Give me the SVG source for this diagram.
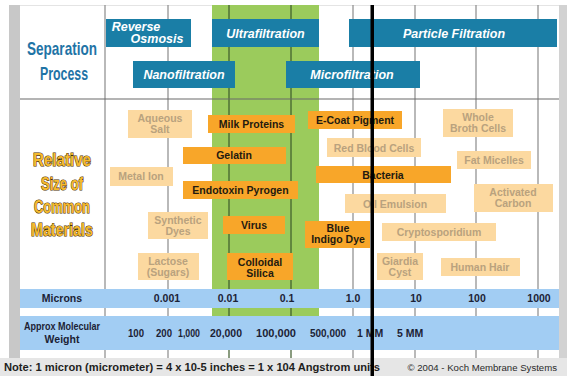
<svg xmlns="http://www.w3.org/2000/svg" width="567" height="376" viewBox="0 0 567 376">
<style>
.sep{fill:#1a7ea6}
.st{font-family:"Liberation Sans",Arial,sans-serif;font-weight:bold;font-style:italic;font-size:12.5px;fill:#fff;text-anchor:middle}
.or{fill:#f8a629}
.lt{fill:#fcd9a0}
.ot{font-family:"Liberation Sans",Arial,sans-serif;font-weight:bold;font-size:10.5px;fill:#231a10;text-anchor:middle}
.ltx{font-family:"Liberation Sans",Arial,sans-serif;font-weight:bold;font-size:10.5px;fill:#b9a27e;text-anchor:middle}
.grid{stroke:#8a8a8a;stroke-width:1.2}
.gridg{stroke:#3c5a2a;stroke-width:1.2}
.band{fill:#a2cdf3}
.val{font-family:"Liberation Sans",Arial,sans-serif;font-weight:bold;font-size:10.5px;fill:#1c2235;text-anchor:middle}
.mw{font-family:"Liberation Sans",Arial,sans-serif;font-weight:bold;font-size:10.5px;fill:#1c2235;text-anchor:middle}
.hd{font-family:"Liberation Sans Narrow","Liberation Sans",Arial,sans-serif;font-weight:bold;font-size:19px;fill:#1f74a6;text-anchor:middle}
.rel{font-family:"Liberation Sans Narrow","Liberation Sans",Arial,sans-serif;font-weight:bold;font-size:19px;fill:#f6ba2e;stroke:#4a3000;stroke-width:1.2;paint-order:stroke;text-anchor:middle}
</style>
<rect x="0" y="0" width="567" height="376" fill="#ffffff"/>
<rect x="9" y="5" width="11" height="353" fill="#c8c8c8"/>
<rect x="559" y="5" width="8" height="353" fill="#d2d2d2"/>
<rect x="0" y="358" width="567" height="18" fill="#e6e6e6"/>
<line x1="20" y1="5.5" x2="559" y2="5.5" stroke="#e4e4e4" stroke-width="1"/>
<rect x="212" y="5" width="107" height="311" fill="#9bcb5c"/>
<g id="grid">
<line class="grid" x1="105" y1="5" x2="105" y2="358"/>
<line class="grid" x1="168" y1="5" x2="168" y2="358"/>
<line class="gridg" x1="229" y1="5" x2="229" y2="358"/>
<line class="gridg" x1="291" y1="5" x2="291" y2="358"/>
<line class="grid" x1="353" y1="5" x2="353" y2="358"/>
<line class="grid" x1="415" y1="5" x2="415" y2="358"/>
<line class="grid" x1="476" y1="5" x2="476" y2="358"/>
<line class="grid" x1="538" y1="5" x2="538" y2="358"/>
<line x1="20" y1="99" x2="559" y2="99" stroke="#6a6a6a" stroke-width="1.2"/>
</g>
<g id="connectors"></g>
<g id="separation-process-label">
<text class="hd" x="62" y="55" textLength="70" lengthAdjust="spacingAndGlyphs">Separation</text>
<text class="hd" x="64" y="80" textLength="48" lengthAdjust="spacingAndGlyphs">Process</text>
</g>
<g id="reverse-osmosis"><rect class="sep" x="106" y="19" width="85" height="28"/><text class="st" x="136" y="31">Reverse</text><text class="st" x="157" y="43">Osmosis</text></g>
<g id="ultrafiltration"><rect class="sep" x="212" y="19" width="107" height="28"/><text class="st" x="265.5" y="38">Ultrafiltration</text></g>
<g id="particle-filtration"><rect class="sep" x="349" y="19" width="208" height="28"/><text class="st" x="454" y="38">Particle Filtration</text></g>
<g id="nanofiltration"><rect class="sep" x="133" y="61" width="102" height="27"/><text class="st" x="184" y="79">Nanofiltration</text></g>
<g id="microfiltration"><rect class="sep" x="286" y="61" width="134" height="27"/><text class="st" x="352" y="79">Microfiltration</text></g>
<g id="relative-size-label">
<text class="rel" x="62" y="166" textLength="58" lengthAdjust="spacingAndGlyphs">Relative</text>
<text class="rel" x="62" y="190" textLength="42" lengthAdjust="spacingAndGlyphs">Size of</text>
<text class="rel" x="62" y="213" textLength="56" lengthAdjust="spacingAndGlyphs">Common</text>
<text class="rel" x="62" y="236" textLength="62" lengthAdjust="spacingAndGlyphs">Materials</text>
</g>
<g id="aqueous-salt"><rect class="lt" x="128" y="110" width="64" height="28"/><text class="ltx" x="160" y="122">Aqueous</text><text class="ltx" x="160" y="133">Salt</text></g>
<g id="metal-ion"><rect class="lt" x="110" y="167" width="63" height="19"/><text class="ltx" x="141" y="180">Metal Ion</text></g>
<g id="synthetic-dyes"><rect class="lt" x="148" y="212" width="60" height="27"/><text class="ltx" x="178" y="224">Synthetic</text><text class="ltx" x="178" y="235">Dyes</text></g>
<g id="lactose"><rect class="lt" x="138" y="253" width="61" height="27"/><text class="ltx" x="168" y="265">Lactose</text><text class="ltx" x="168" y="276">(Sugars)</text></g>
<g id="milk-proteins"><rect class="or" x="208" y="115" width="87" height="18"/><text class="ot" x="251.5" y="128">Milk Proteins</text></g>
<g id="gelatin"><rect class="or" x="183" y="147" width="103" height="17"/><text class="ot" x="234" y="159">Gelatin</text></g>
<g id="endotoxin-pyrogen"><rect class="or" x="183" y="181" width="115" height="18"/><text class="ot" x="240.5" y="194">Endotoxin Pyrogen</text></g>
<g id="virus"><rect class="or" x="223" y="216" width="62" height="18"/><text class="ot" x="254" y="229">Virus</text></g>
<g id="colloidal-silica"><rect class="or" x="227" y="253" width="66" height="27"/><text class="ot" x="260" y="266">Colloidal</text><text class="ot" x="260" y="277">Silica</text></g>
<g id="e-coat-pigment"><rect class="or" x="308" y="111" width="94" height="18"/><text class="ot" x="355" y="124">E-Coat Pigment</text></g>
<g id="bacteria"><rect class="or" x="316" y="166" width="135" height="17"/><text class="ot" x="383" y="179">Bacteria</text></g>
<g id="blue-indigo-dye"><rect class="or" x="305" y="221" width="65" height="27"/><text class="ot" x="338" y="232">Blue</text><text class="ot" x="338" y="243">Indigo Dye</text></g>
<g id="whole-broth-cells"><rect class="lt" x="443" y="109" width="70" height="28"/><text class="ltx" x="478" y="121">Whole</text><text class="ltx" x="478" y="132">Broth Cells</text></g>
<g id="red-blood-cells"><rect class="lt" x="327" y="138" width="94" height="19"/><text class="ltx" x="374" y="152">Red Blood Cells</text></g>
<g id="fat-micelles"><rect class="lt" x="457" y="151" width="74" height="18"/><text class="ltx" x="494" y="164">Fat Micelles</text></g>
<g id="activated-carbon"><rect class="lt" x="474" y="184" width="79" height="28"/><text class="ltx" x="513" y="196">Activated</text><text class="ltx" x="513" y="207">Carbon</text></g>
<g id="oil-emulsion"><rect class="lt" x="345" y="194" width="101" height="19"/><text class="ltx" x="395" y="208">Oil Emulsion</text></g>
<g id="cryptosporidium"><rect class="lt" x="382" y="223" width="114" height="18"/><text class="ltx" x="439" y="236">Cryptosporidium</text></g>
<g id="giardia-cyst"><rect class="lt" x="377" y="253" width="46" height="27"/><text class="ltx" x="400" y="265">Giardia</text><text class="ltx" x="400" y="276">Cyst</text></g>
<g id="human-hair"><rect class="lt" x="441" y="258" width="79" height="18"/><text class="ltx" x="480" y="271">Human Hair</text></g>
<g id="microns-row">
<rect class="band" x="20" y="289" width="539" height="19"/>
<text class="val" x="62" y="302">Microns</text>
<text class="val" x="167" y="302">0.001</text>
<text class="val" x="228" y="302">0.01</text>
<text class="val" x="287" y="302">0.1</text>
<text class="val" x="353" y="302">1.0</text>
<text class="val" x="416" y="302">10</text>
<text class="val" x="477" y="302">100</text>
<text class="val" x="539" y="302">1000</text>
</g>
<g id="molecular-weight-row">
<rect class="band" x="20" y="316" width="539" height="34"/>
<text class="mw" x="62" y="330" font-size="10" textLength="76" lengthAdjust="spacingAndGlyphs">Approx Molecular</text>
<text class="mw" x="62" y="343" font-size="10">Weight</text>
<text class="mw" x="136" y="337" textLength="16" lengthAdjust="spacingAndGlyphs">100</text>
<text class="mw" x="164" y="337" textLength="16" lengthAdjust="spacingAndGlyphs">200</text>
<text class="mw" x="189" y="337" textLength="22" lengthAdjust="spacingAndGlyphs">1,000</text>
<text class="mw" x="226" y="337" textLength="32" lengthAdjust="spacingAndGlyphs">20,000</text>
<text class="mw" x="276" y="337" textLength="40" lengthAdjust="spacingAndGlyphs">100,000</text>
<text class="mw" x="328" y="337" textLength="36" lengthAdjust="spacingAndGlyphs">500,000</text>
<text class="mw" x="370" y="337" font-size="9.5">1 MM</text>
<text class="mw" x="410" y="337" font-size="9.5">5 MM</text>
</g>
<g id="footer">
<text x="4" y="371" font-family="Liberation Sans, Arial, sans-serif" font-weight="bold" font-size="11" fill="#1e1e1e" textLength="376" lengthAdjust="spacingAndGlyphs">Note: 1 micron (micrometer) = 4 x 10-5 inches = 1 x 104 Angstrom units</text>
<text x="557" y="371" font-family="Liberation Sans, Arial, sans-serif" font-size="9.6" fill="#2a2a2a" text-anchor="end">© 2004 - Koch Membrane Systems</text>
</g>
<rect x="370.5" y="5" width="3.5" height="371" fill="#000"/>
</svg>
